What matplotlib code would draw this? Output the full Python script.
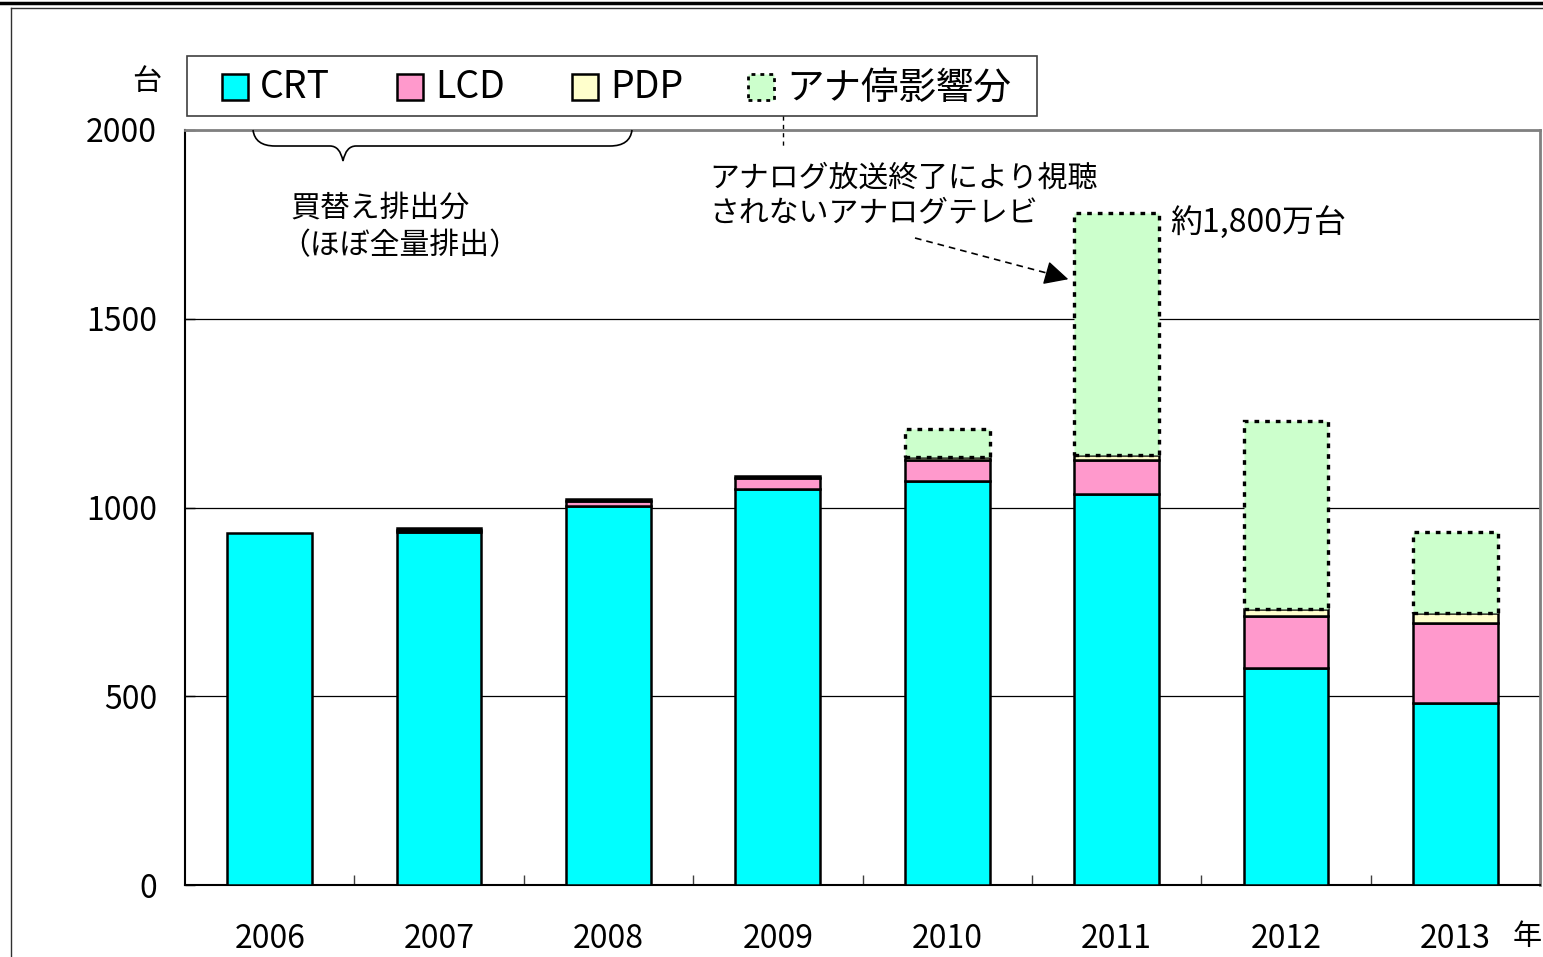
import matplotlib
matplotlib.use('Agg')
import matplotlib.pyplot as plt
from matplotlib.lines import Line2D
from matplotlib.patches import PathPatch, Rectangle, FancyArrowPatch
from matplotlib.path import Path

plt.rcParams['font.family'] = ['Noto Sans CJK JP', 'DejaVu Sans']

years = ['2006', '2007', '2008', '2009', '2010', '2011', '2012', '2013']
crt = [933, 936, 1004, 1048, 1070, 1035, 574, 483]
lcd = [0, 5, 14, 30, 56, 90, 139, 210]
pdp = [0, 5, 5, 6, 7, 14, 18, 27]
ana = [0, 0, 0, 0, 74, 641, 498, 214]
labels = ['CRT', 'LCD', 'PDP', 'アナ停影響分']
colors = ['#00FFFF', '#FF99CC', '#FFFFCC', '#CCFFCC']

W, H = 1543, 957
fig = plt.figure(figsize=(W / 100, H / 100), dpi=100)

def fx(x):
    return x / W

def fy(y):
    return 1 - y / H

ax = fig.add_axes([fx(185), fy(885), fx(1540) - fx(185), fy(130) - fy(885)])

x = list(range(len(years)))
b1 = [c + l for c, l in zip(crt, lcd)]
b2 = [c + l + p for c, l, p in zip(crt, lcd, pdp)]

bw = 0.5
lw = 1.8
dash = (0, (1.4, 1.8))
h_crt = ax.bar(x, crt, bw, color=colors[0], edgecolor='black', linewidth=lw, zorder=3)
h_lcd = ax.bar(x, lcd, bw, bottom=crt, color=colors[1], edgecolor='black', linewidth=lw, zorder=3)
h_pdp = ax.bar(x, pdp, bw, bottom=b1, color=colors[2], edgecolor='black', linewidth=lw, zorder=3)
h_ana = ax.bar(x, ana, bw, bottom=b2, color=colors[3], edgecolor='black', linewidth=2.4,
               linestyle=dash, zorder=4)
for bars in (h_lcd, h_pdp, h_ana):
    for p in bars.patches:
        if p.get_height() == 0:
            p.set_visible(False)

ax.set_xlim(-0.5, len(years) - 0.5)
ax.set_ylim(0, 2000)
ax.set_yticks([0, 500, 1000, 1500, 2000])
ax.set_xticks(x)
ax.set_xticklabels(years)
ax.set_xticks([i + 0.5 for i in x[:-1]], minor=True)
ax.tick_params(axis='x', which='major', length=0, pad=27, labelsize=23)
ax.tick_params(axis='x', which='minor', direction='in', length=7, width=1, color='#404040')
ax.tick_params(axis='y', direction='in', length=7, width=1, pad=20, labelsize=23)
for t in ax.get_yticklabels():
    t.set_y(t.get_position()[1])
ax.yaxis.grid(True, color='black', linewidth=0.9)
ax.set_axisbelow(True)
for s in ('top', 'right'):
    ax.spines[s].set_color('#808080')
    ax.spines[s].set_linewidth(2)
for s in ('left', 'bottom'):
    ax.spines[s].set_color('black')
    ax.spines[s].set_linewidth(1.5)

# legend, drawn by hand to match the box layout
fig.add_artist(Rectangle((fx(187), fy(116)), fx(1037) - fx(187), fy(56) - fy(116),
                         transform=fig.transFigure, fill=False, edgecolor='#404040',
                         linewidth=1.2))
key_x = [222, 397, 572, 748]
for i, (lab, col) in enumerate(zip(labels, colors)):
    ls = dash if i == 3 else 'solid'
    elw = 2.0 if i == 3 else 1.8
    fig.add_artist(Rectangle((fx(key_x[i]), fy(100)), fx(26), fy(74) - fy(100),
                             transform=fig.transFigure, facecolor=col,
                             edgecolor='black', linewidth=elw, linestyle=ls))
    fig.text(fx(key_x[i] + 38), fy(88), lab, fontsize=27, ha='left', va='center')

# unit labels
fig.text(fx(147), fy(82), '台', fontsize=21, ha='center', va='center')
fig.text(fx(1513), fy(937), '年', fontsize=21, ha='left', va='center')

# annotations
fig.text(fx(709), fy(178), 'アナログ放送終了により視聴', fontsize=21.5, ha='left', va='center')
fig.text(fx(709), fy(214), 'されないアナログテレビ', fontsize=21.5, ha='left', va='center')
fig.text(fx(1170), fy(222), '約1,800万台', fontsize=23, ha='left', va='center')
fig.text(fx(290), fy(208), '買替え排出分', fontsize=21.5, ha='left', va='center')
fig.text(fx(280), fy(246), '（ほぼ全量排出）', fontsize=21.5, ha='left', va='center')

# dashed arrow
fig.add_artist(Line2D([fx(915), fx(1058)], [fy(238), fy(276)], color='black',
                      linewidth=1.2, linestyle=(0, (4, 3))))
fig.add_artist(FancyArrowPatch(
    (fx(1050), fy(274)), (fx(1071), fy(280)), transform=fig.transFigure,
    arrowstyle='-|>,head_length=10,head_width=5', color='black', linewidth=1,
    mutation_scale=1.5))

# dashed connector from legend
fig.add_artist(Line2D([fx(783), fx(783)], [fy(116), fy(148)], color='black',
                      linewidth=1, linestyle=(0, (3, 3))))

# brace
pts = [(253, 130), (255, 146), (275, 146), (330, 146), (340, 146), (343, 161),
       (346, 146), (356, 146), (610, 146), (630, 146), (632, 130)]
codes = [Path.MOVETO, Path.CURVE3, Path.CURVE3, Path.LINETO, Path.CURVE3, Path.CURVE3,
         Path.CURVE3, Path.CURVE3, Path.LINETO, Path.CURVE3, Path.CURVE3]
brace = Path([(fx(a), fy(b)) for a, b in pts], codes)
fig.add_artist(PathPatch(brace, transform=fig.transFigure, fill=False,
                         edgecolor='black', linewidth=1.2))

# outer frame lines
fig.add_artist(Line2D([0, 1], [fy(3), fy(3)], color='black', linewidth=2.5))
fig.add_artist(Line2D([fx(11), 1], [fy(8), fy(8)], color='#303030', linewidth=1))
fig.add_artist(Line2D([fx(11), fx(11)], [fy(8), 0], color='#303030', linewidth=1))

fig.savefig('out.png', dpi=100)
